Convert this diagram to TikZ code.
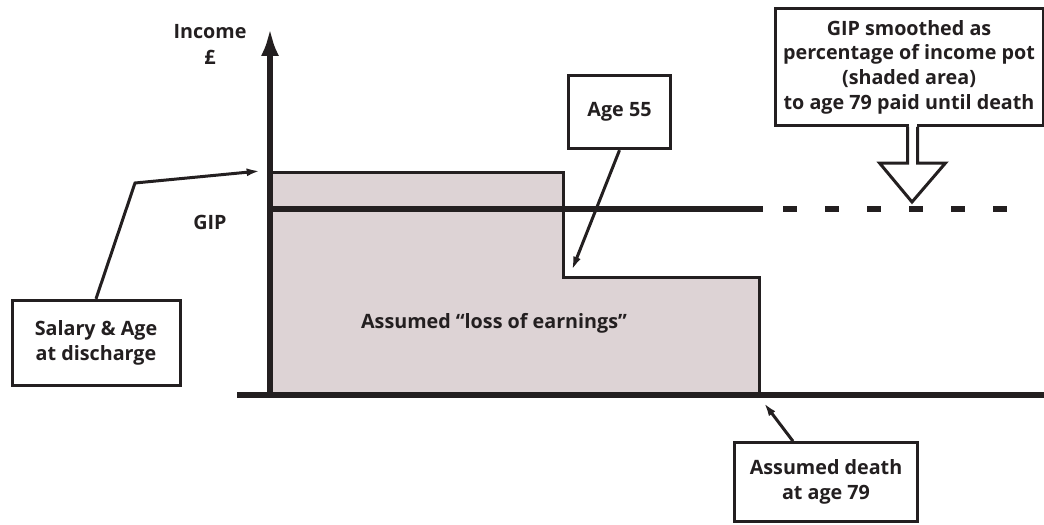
\documentclass[tikz,border=0pt]{standalone}
\usepackage{fontspec}
\setmainfont{Open Sans}
\usepackage{tikz}
\usetikzlibrary{arrows.meta,positioning}
\definecolor{ink}{HTML}{231F20}
\definecolor{pot}{HTML}{DDD3D5}

\begin{document}
\begin{tikzpicture}[x=0.75pt,y=-0.75pt,
  every node/.style={font=\bfseries\fontsize{14.8}{18.5}\selectfont,text=ink},
  axis/.style={draw=ink,line width=4.5pt},
  callout/.style={draw=ink,line width=2.25pt,fill=white,inner sep=0pt,align=center},
  pointer/.style={draw=ink,line width=2.25pt,-{Latex[length=10pt,width=6pt]}}]
  \useasboundingbox (0,0) rectangle (1044,524);
  \filldraw[fill=pot,draw=ink,line width=2.25pt] (270,395) -- (270,172) -- (563,172) -- (563,277) -- (759,277) -- (759,395);
  \draw[ink,line width=5pt] (270,209) -- (763,209);
  \draw[ink,line width=5pt,dash pattern=on 10.5pt off 21pt] (783,209) -- (1010,209);
  \draw[axis,-{Latex[length=21pt,width=13.5pt]}] (270,397) -- (270,28);
  \draw[axis,-{Latex[length=21pt,width=13.5pt]}] (237,395) -- (1072,395);

  \node (income) at (210,44) [align=center,font=\bfseries\fontsize{14.8}{19.5}\selectfont] {Income\\£};
  \node (giplabel) at (210,222) {GIP};
  \node (loss) at (494,323) {Assumed “loss of earnings”};

  \node[callout,minimum width=126pt,minimum height=64pt] (salary) at (96,343) {Salary \& Age\\at discharge};
  \node[callout,minimum width=76.5pt,minimum height=55pt] (age) at (619.5,112) {Age 55};
  \node[callout,minimum width=137pt,minimum height=59pt] (death) at (826,482) {Assumed death\\at age 79};
  \node[callout,minimum width=201pt,minimum height=88pt] (smooth) at (909,67) {GIP smoothed as\\percentage of income pot\\(shaded area)\\to age 79 paid until death};

  \fill[white] (908.5,122) rectangle (916.5,131);
  \filldraw[draw=ink,fill=white,line width=2.25pt] (907.5,127) -- (907.5,163) -- (879.5,163) -- (912,202) -- (945.5,163) -- (917.5,163) -- (917.5,127);

  \coordinate (salpt) at (260,171);
  \coordinate (steppt) at (572,270);
  \coordinate (deathpt) at (764,403);
  \draw[pointer] (salary.north) -- (135,183) -- (salpt);
  \draw[pointer] (age.south) -- (steppt);
  \draw[pointer] (death.129) -- (deathpt);
\end{tikzpicture}
\end{document}
